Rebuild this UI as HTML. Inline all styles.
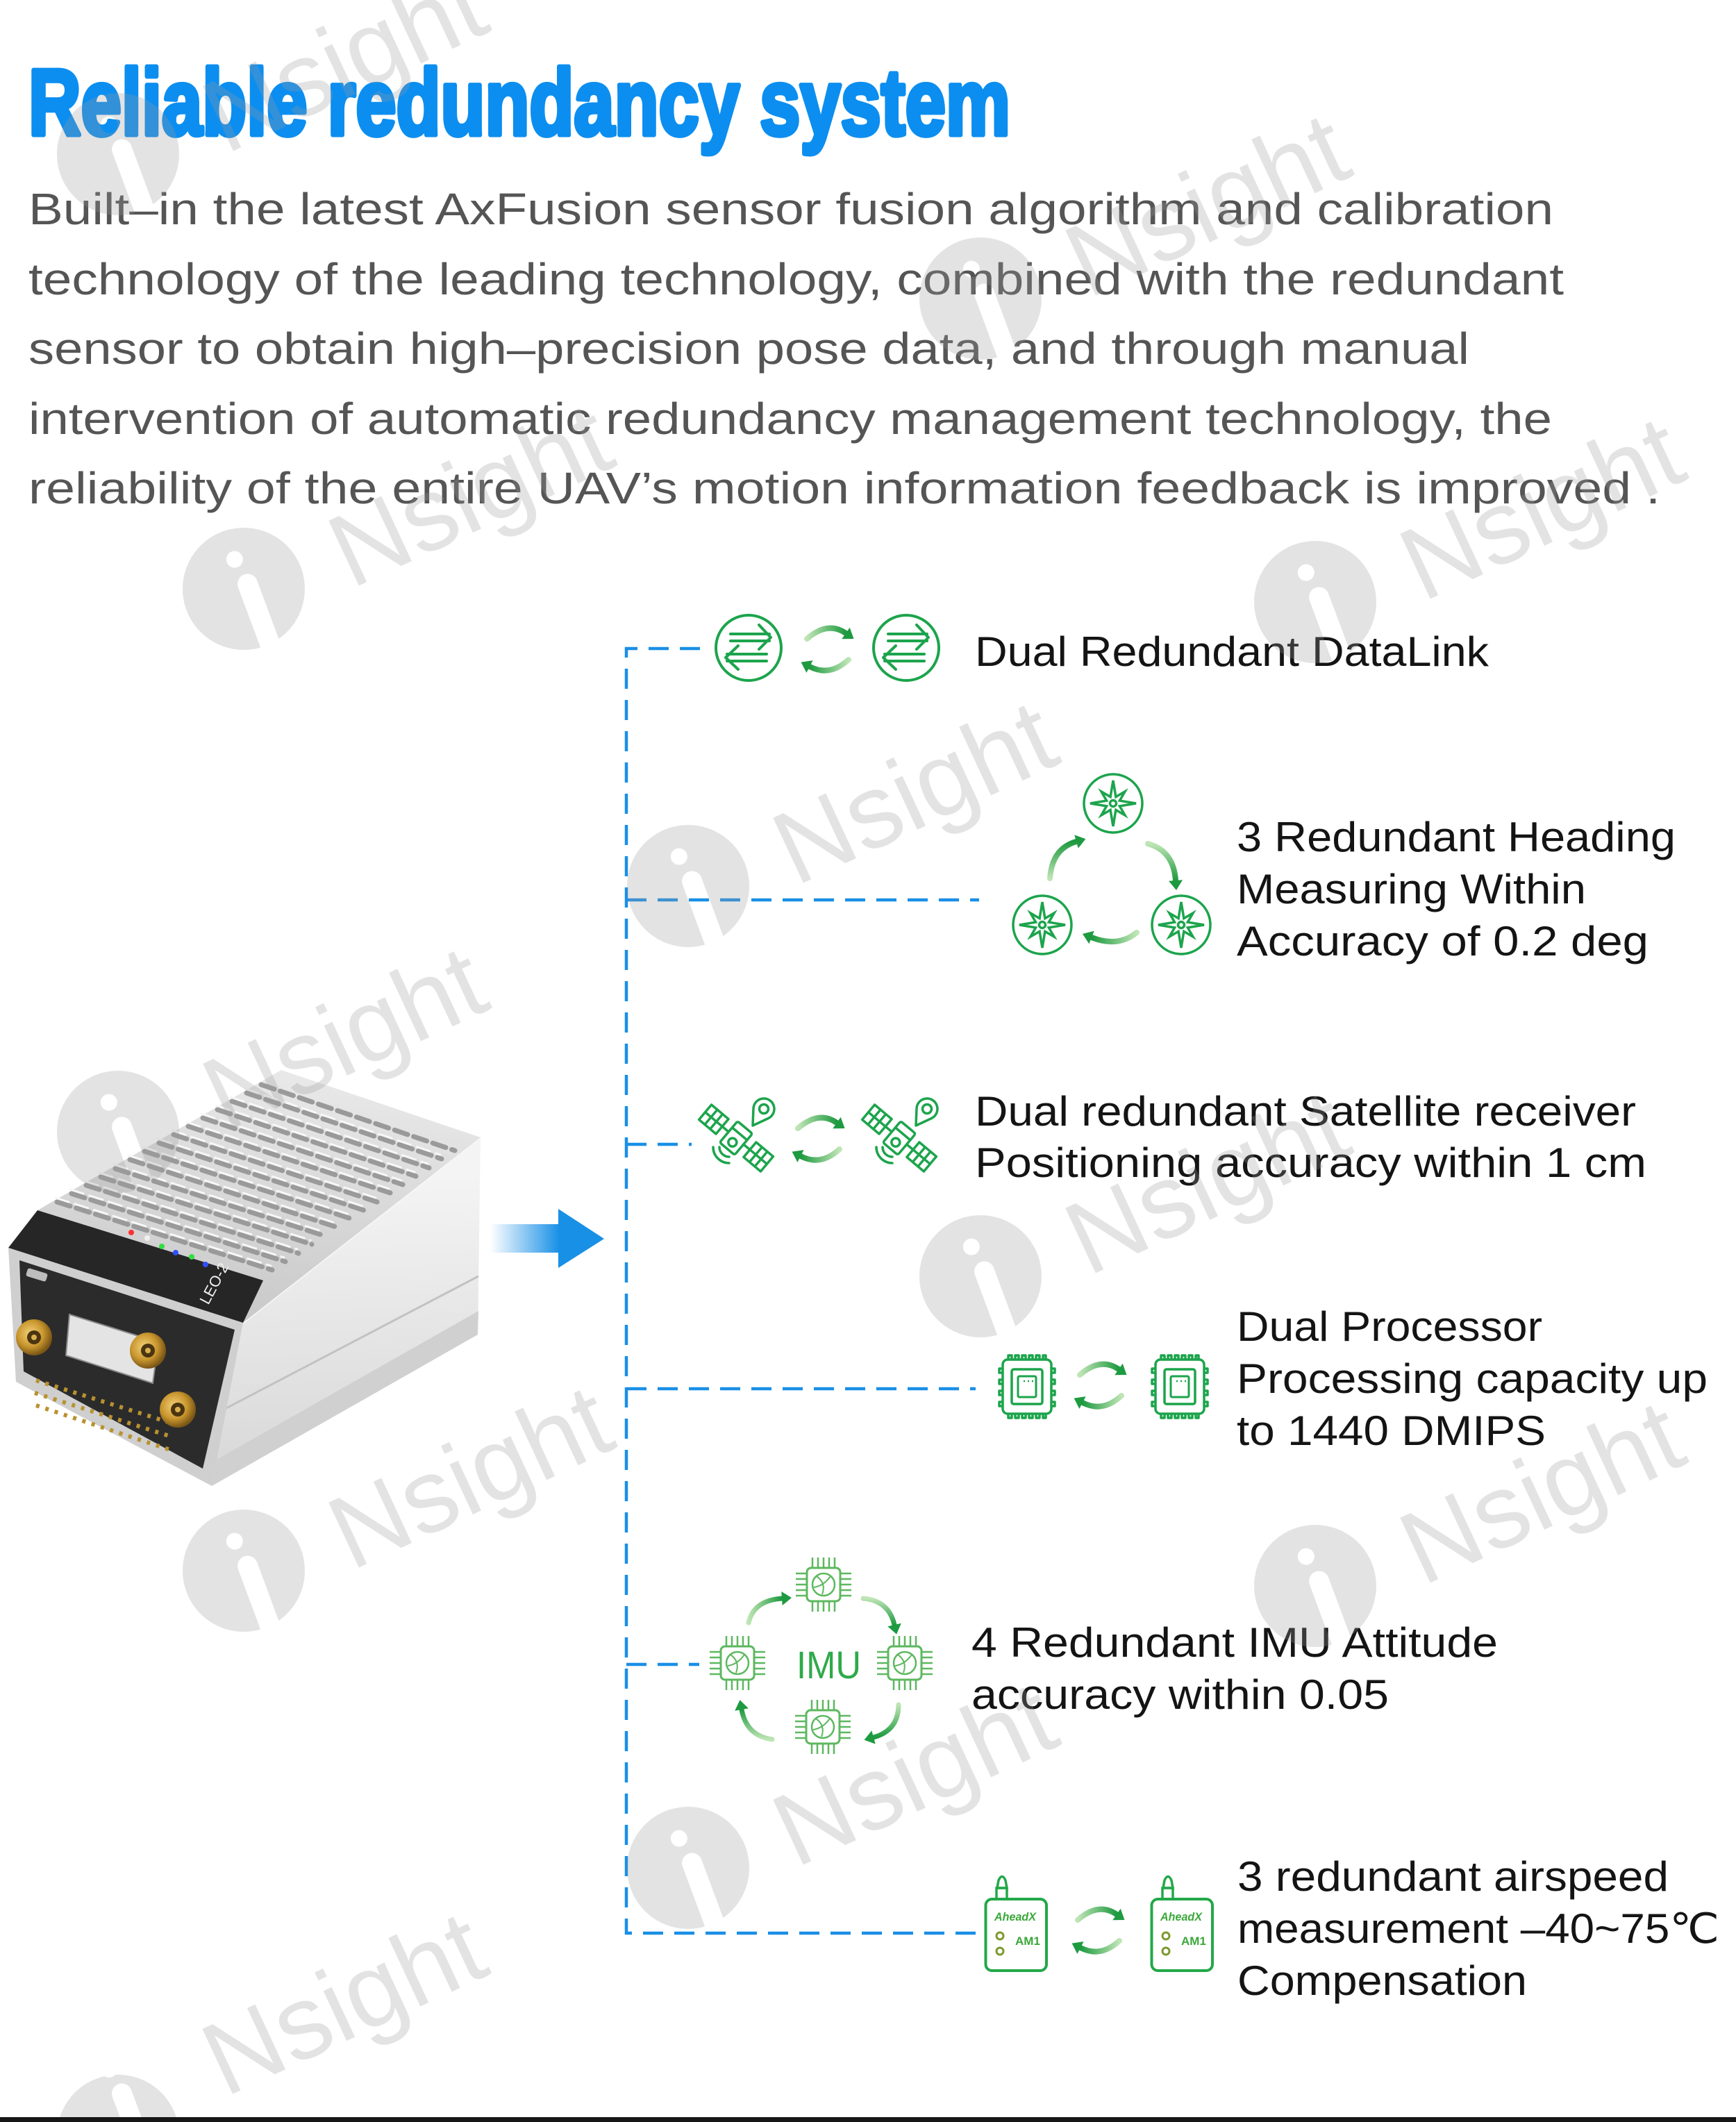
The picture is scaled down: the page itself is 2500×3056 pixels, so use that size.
<!DOCTYPE html>
<html><head><meta charset="utf-8"><title>Reliable redundancy system</title>
<style>
html,body{margin:0;padding:0;background:#fff;overflow:hidden;}
html{width:2500px;height:3056px;}
body{width:2500px;height:3056px;overflow:hidden;}
svg{display:block;}
</style></head>
<body>
<svg width="2500" height="3056" viewBox="0 0 2500 3056" xmlns="http://www.w3.org/2000/svg">
<defs>
  <linearGradient id="gR" x1="0" y1="0" x2="1" y2="0"><stop offset="0" stop-color="#bfe5b5"/><stop offset="1" stop-color="#1e9a40"/></linearGradient>
  <linearGradient id="gL" x1="1" y1="0" x2="0" y2="0"><stop offset="0" stop-color="#bfe5b5"/><stop offset="1" stop-color="#1e9a40"/></linearGradient>
  <linearGradient id="gD" x1="0" y1="0" x2="0" y2="1"><stop offset="0" stop-color="#bfe5b5"/><stop offset="1" stop-color="#1e9a40"/></linearGradient>
  <linearGradient id="gU" x1="0" y1="1" x2="0" y2="0"><stop offset="0" stop-color="#bfe5b5"/><stop offset="1" stop-color="#1e9a40"/></linearGradient>
  <linearGradient id="blueShaft" gradientUnits="userSpaceOnUse" x1="706" y1="0" x2="806" y2="0"><stop offset="0" stop-color="#ffffff"/><stop offset="1" stop-color="#1890e6"/></linearGradient>
  <linearGradient id="topFace" gradientUnits="userSpaceOnUse" x1="400" y1="1540" x2="360" y2="1900"><stop offset="0" stop-color="#e9e9e9"/><stop offset="1" stop-color="#c9c9c9"/></linearGradient>
  <linearGradient id="rightFace" gradientUnits="userSpaceOnUse" x1="500" y1="1700" x2="520" y2="2100"><stop offset="0" stop-color="#f4f4f4"/><stop offset="1" stop-color="#d9d9d9"/></linearGradient>
  <radialGradient id="gold" cx="0.4" cy="0.4" r="0.6"><stop offset="0" stop-color="#f3d27a"/><stop offset="0.6" stop-color="#c9962e"/><stop offset="1" stop-color="#7a5616"/></radialGradient>
  <mask id="wmask" maskUnits="userSpaceOnUse" x="-120" y="-120" width="240" height="260">
    <rect x="-120" y="-120" width="240" height="260" fill="#fff"/>
    <circle cx="6" cy="-44" r="12" fill="#000"/>
    <line x1="8" y1="-4" x2="-2" y2="120" stroke="#000" stroke-width="29" stroke-linecap="round"/>
  </mask>
</defs>

<!-- Title -->
<text x="41" y="194" font-family="'Liberation Sans', sans-serif" font-weight="bold" font-size="135" fill="#0b8ef0" stroke="#0b8ef0" stroke-width="7" stroke-linejoin="round" textLength="1414" lengthAdjust="spacingAndGlyphs">Reliable redundancy system</text>

<!-- Paragraph -->
<g font-family="'Liberation Sans', 'DejaVu Sans', sans-serif" font-size="64" fill="#555555">
  <text x="41" y="323" textLength="2196" lengthAdjust="spacingAndGlyphs">Built–in the latest AxFusion sensor fusion algorithm and calibration</text>
  <text x="41" y="424" textLength="2211" lengthAdjust="spacingAndGlyphs">technology of the leading technology, combined with the redundant</text>
  <text x="41" y="524" textLength="2075" lengthAdjust="spacingAndGlyphs">sensor to obtain high–precision pose data, and through manual</text>
  <text x="41" y="625" textLength="2194" lengthAdjust="spacingAndGlyphs">intervention of automatic redundancy management technology, the</text>
  <text x="41" y="725" textLength="2350" lengthAdjust="spacingAndGlyphs">reliability of the entire UAV’s motion information feedback is improved .</text>
</g>

<!-- Dashed connectors -->
<g stroke="#1a8fe6" stroke-width="4.5" fill="none" stroke-dasharray="29 16">
  <path d="M1008,934 H902 V2784 H1415"/>
  <path d="M902,1296 H1410"/>
  <path d="M902,1648 H996"/>
  <path d="M902,2000 H1405"/>
  <path d="M902,2397 H1007"/>
</g>

<!-- Device -->
<g>
  <polygon points="350,1905 692,1638 688,1922 305,2140" fill="url(#rightFace)"/>
  <polygon points="312,2102 689,1888 688,1922 305,2140" fill="#d0d0d0"/>
  <line x1="322" y1="2030" x2="689" y2="1838" stroke="#c2c2c2" stroke-width="3"/>
  <line x1="350" y1="1905" x2="692" y2="1638" stroke="#f8f8f8" stroke-width="3"/>
  <polygon points="12,1797 54,1743 405,1541 692,1638 350,1905" fill="url(#topFace)"/>
  <g stroke="#9a9a9a" stroke-width="7" stroke-linecap="round" stroke-dasharray="20 9" fill="none">
    <line x1="82" y1="1731" x2="392" y2="1829"/>
    <line x1="103" y1="1719" x2="411" y2="1817"/>
    <line x1="124" y1="1707" x2="430" y2="1805"/>
    <line x1="145" y1="1695" x2="449" y2="1792"/>
    <line x1="166" y1="1683" x2="468" y2="1780"/>
    <line x1="187" y1="1670" x2="487" y2="1768"/>
    <line x1="208" y1="1658" x2="505" y2="1755"/>
    <line x1="229" y1="1646" x2="524" y2="1743"/>
    <line x1="250" y1="1634" x2="543" y2="1731"/>
    <line x1="271" y1="1622" x2="562" y2="1718"/>
    <line x1="292" y1="1610" x2="580" y2="1706"/>
    <line x1="313" y1="1598" x2="599" y2="1694"/>
    <line x1="334" y1="1586" x2="618" y2="1682"/>
    <line x1="355" y1="1574" x2="636" y2="1669"/>
    <line x1="376" y1="1562" x2="655" y2="1657"/>
  </g>
  <g stroke="#f7f7f7" stroke-width="3" stroke-linecap="round" stroke-dasharray="20 9" fill="none">
    <line x1="80" y1="1725" x2="390" y2="1823"/>
    <line x1="101" y1="1713" x2="409" y2="1811"/>
    <line x1="122" y1="1701" x2="428" y2="1799"/>
    <line x1="143" y1="1689" x2="447" y2="1786"/>
    <line x1="164" y1="1677" x2="466" y2="1774"/>
    <line x1="185" y1="1664" x2="485" y2="1762"/>
    <line x1="206" y1="1652" x2="503" y2="1749"/>
    <line x1="227" y1="1640" x2="522" y2="1737"/>
    <line x1="248" y1="1628" x2="541" y2="1725"/>
    <line x1="269" y1="1616" x2="560" y2="1712"/>
    <line x1="290" y1="1604" x2="578" y2="1700"/>
    <line x1="311" y1="1592" x2="597" y2="1688"/>
    <line x1="332" y1="1580" x2="616" y2="1676"/>
    <line x1="353" y1="1568" x2="634" y2="1663"/>
  </g>
  <polygon points="12,1797 54,1743 379,1844 350,1905" fill="#262626"/>
  <g>
    <circle cx="189" cy="1775" r="4" fill="#ff3030"/>
    <circle cx="212" cy="1783" r="4" fill="#f0f0f0"/>
    <circle cx="233" cy="1795" r="4" fill="#30e040"/>
    <circle cx="253" cy="1804" r="4" fill="#3050ff"/>
    <circle cx="276" cy="1810" r="4" fill="#30e040"/>
    <circle cx="296" cy="1821" r="4" fill="#3050ff"/>
  </g>
  <text x="0" y="0" transform="translate(300,1880) rotate(-62)" font-family="'Liberation Sans', sans-serif" font-size="22" fill="#f0f0f0">LEO-2</text>
  <polygon points="12,1797 350,1905 305,2140 23,1990" fill="#cfcfcf"/>
  <polygon points="28,1815 338,1915 292,2115 34,1975" fill="#2b2b2b"/>
  <rect x="38" y="1830" width="30" height="12" rx="3" fill="#bdbdbd" transform="rotate(17 53 1836)"/>
  <polygon points="100,1893 228,1933 220,1992 95,1952" fill="#e4e4e4" stroke="#8a8a8a" stroke-width="2"/>
  <g stroke="#b8922f" stroke-width="6" stroke-dasharray="5 9" fill="none">
    <line x1="52" y1="1988" x2="255" y2="2052"/>
    <line x1="50" y1="2006" x2="250" y2="2070"/>
    <line x1="52" y1="2024" x2="245" y2="2088"/>
  </g>
  <g>
    <circle cx="49" cy="1926" r="26" fill="url(#gold)"/><circle cx="49" cy="1926" r="10" fill="#4a3510"/><circle cx="49" cy="1926" r="4" fill="#d9b050"/>
    <circle cx="213" cy="1945" r="26" fill="url(#gold)"/><circle cx="213" cy="1945" r="10" fill="#4a3510"/><circle cx="213" cy="1945" r="4" fill="#d9b050"/>
    <circle cx="256" cy="2030" r="26" fill="url(#gold)"/><circle cx="256" cy="2030" r="10" fill="#4a3510"/><circle cx="256" cy="2030" r="4" fill="#d9b050"/>
  </g>
</g>

<!-- Blue arrow -->
<rect x="706" y="1763" width="99" height="41" fill="url(#blueShaft)"/>
<polygon points="804,1741 870,1784 804,1826" fill="#1890e6"/>

<!-- DataLink icons -->
<g stroke="#1ca44c" fill="none" stroke-width="4" stroke-linecap="round" stroke-linejoin="round">
  <g transform="translate(1078,933)">
    <circle r="47"/>
    <path d="M-26,-20 H30 M-26,-10 H30 M15,-33 L32,-15 L15,2"/>
    <path d="M-31,9 H26 M-31,19 H26 M-15,-3 L-33,14 L-15,31"/>
  </g>
  <g transform="translate(1305,933)">
    <circle r="47"/>
    <path d="M-26,-20 H30 M-26,-10 H30 M15,-33 L32,-15 L15,2"/>
    <path d="M-31,9 H26 M-31,19 H26 M-15,-3 L-33,14 L-15,31"/>
  </g>
</g>

<!-- Refresh arrow pairs -->
<g transform="translate(1194,935)">
  <path d="M-32,-15 Q-2,-41 24,-23" stroke="url(#gR)" stroke-width="8" fill="none" stroke-linecap="round"/>
  <polygon points="35.5,-15 18.3,-14.8 29.7,-31.2" fill="#1e9a40"/>
  <path d="M28,15 Q1,40 -28,25" stroke="url(#gL)" stroke-width="8" fill="none" stroke-linecap="round"/>
  <polygon points="-40.4,18.6 -23.4,16.1 -32.6,33.9" fill="#1e9a40"/>
</g>
<g transform="translate(1181,1640)">
  <path d="M-32,-15 Q-2,-41 24,-23" stroke="url(#gR)" stroke-width="8" fill="none" stroke-linecap="round"/>
  <polygon points="35.5,-15 18.3,-14.8 29.7,-31.2" fill="#1e9a40"/>
  <path d="M28,15 Q1,40 -28,25" stroke="url(#gL)" stroke-width="8" fill="none" stroke-linecap="round"/>
  <polygon points="-40.4,18.6 -23.4,16.1 -32.6,33.9" fill="#1e9a40"/>
</g>
<g transform="translate(1587,1995)">
  <path d="M-32,-15 Q-2,-41 24,-23" stroke="url(#gR)" stroke-width="8" fill="none" stroke-linecap="round"/>
  <polygon points="35.5,-15 18.3,-14.8 29.7,-31.2" fill="#1e9a40"/>
  <path d="M28,15 Q1,40 -28,25" stroke="url(#gL)" stroke-width="8" fill="none" stroke-linecap="round"/>
  <polygon points="-40.4,18.6 -23.4,16.1 -32.6,33.9" fill="#1e9a40"/>
</g>
<g transform="translate(1584,2780)">
  <path d="M-32,-15 Q-2,-41 24,-23" stroke="url(#gR)" stroke-width="8" fill="none" stroke-linecap="round"/>
  <polygon points="35.5,-15 18.3,-14.8 29.7,-31.2" fill="#1e9a40"/>
  <path d="M28,15 Q1,40 -28,25" stroke="url(#gL)" stroke-width="8" fill="none" stroke-linecap="round"/>
  <polygon points="-40.4,18.6 -23.4,16.1 -32.6,33.9" fill="#1e9a40"/>
</g>

<!-- Heading compasses -->
<g stroke="#1ca44c" fill="none" stroke-width="3.5" stroke-linejoin="miter">
  <g transform="translate(1603,1157)">
    <circle r="42"/>
    <polygon points="0,-33 3.9,-9.4 17,-17 9.4,-3.9 33,0 9.4,3.9 17,17 3.9,9.4 0,33 -3.9,9.4 -17,17 -9.4,3.9 -33,0 -9.4,-3.9 -17,-17 -3.9,-9.4"/>
    <circle r="4.5"/>
  </g>
  <g transform="translate(1501,1332)">
    <circle r="42"/>
    <polygon points="0,-33 3.9,-9.4 17,-17 9.4,-3.9 33,0 9.4,3.9 17,17 3.9,9.4 0,33 -3.9,9.4 -17,17 -9.4,3.9 -33,0 -9.4,-3.9 -17,-17 -3.9,-9.4"/>
    <circle r="4.5"/>
  </g>
  <g transform="translate(1701,1332)">
    <circle r="42"/>
    <polygon points="0,-33 3.9,-9.4 17,-17 9.4,-3.9 33,0 9.4,3.9 17,17 3.9,9.4 0,33 -3.9,9.4 -17,17 -9.4,3.9 -33,0 -9.4,-3.9 -17,-17 -3.9,-9.4"/>
    <circle r="4.5"/>
  </g>
</g>
<g fill="none" stroke-width="8" stroke-linecap="round">
  <path d="M1512,1265 Q1515,1222 1550,1212" stroke="url(#gU)"/>
  <path d="M1653,1215 Q1690,1225 1693,1268" stroke="url(#gD)"/>
  <path d="M1637,1343 Q1610,1365 1572,1350" stroke="url(#gL)"/>
</g>
<g fill="#1e9a40">
  <polygon points="1563.4,1208.2 1552.7,1221.6 1547.3,1202.4"/>
  <polygon points="1694,1282 1683,1268.7 1703,1267.3"/>
  <polygon points="1559,1344.9 1575.7,1340.7 1568.3,1359.3"/>
</g>

<!-- Satellites -->
<g stroke="#1ca44c" fill="none" stroke-width="3.5" stroke-linejoin="round" stroke-linecap="round">
  <g>
    <g transform="translate(1060,1639) rotate(40)">
      <rect x="-58" y="-14" width="32" height="28"/>
      <path d="M-47,-14V14 M-37,-14V14 M-58,0H-26"/>
      <rect x="26" y="-14" width="32" height="28"/>
      <path d="M37,-14V14 M47,-14V14 M26,0H58"/>
      <path d="M-26,0H-14 M14,0H26"/>
      <rect x="-14" y="-20" width="28" height="40" rx="3"/>
      <circle cx="0" cy="8" r="6"/>
      <path d="M-14,-8H14"/>
    </g>
    <path d="M1050,1666 A14,14 0 0 1 1036,1652 M1050,1675 A23,23 0 0 1 1027,1652"/>
    <path d="M1084,1621 L1085,1596.4 A15,15 0 1 1 1106.3,1610.6 Z"/>
    <circle cx="1100" cy="1597" r="6.5"/>
  </g>
  <g transform="translate(235,0)">
    <g transform="translate(1060,1639) rotate(40)">
      <rect x="-58" y="-14" width="32" height="28"/>
      <path d="M-47,-14V14 M-37,-14V14 M-58,0H-26"/>
      <rect x="26" y="-14" width="32" height="28"/>
      <path d="M37,-14V14 M47,-14V14 M26,0H58"/>
      <path d="M-26,0H-14 M14,0H26"/>
      <rect x="-14" y="-20" width="28" height="40" rx="3"/>
      <circle cx="0" cy="8" r="6"/>
      <path d="M-14,-8H14"/>
    </g>
    <path d="M1050,1666 A14,14 0 0 1 1036,1652 M1050,1675 A23,23 0 0 1 1027,1652"/>
    <path d="M1084,1621 L1085,1596.4 A15,15 0 1 1 1106.3,1610.6 Z"/>
    <circle cx="1100" cy="1597" r="6.5"/>
  </g>
</g>

<!-- Processors -->
<g stroke="#1ca44c" fill="none" stroke-width="3.5" stroke-linejoin="round">
  <g transform="translate(1479,1997)">
    <rect x="-35" y="-39" width="70" height="78" rx="7"/>
    <path d="M-27,-39 v-6 h5 v6 M-17,-39 v-6 h5 v6 M-7,-39 v-6 h5 v6 M3,-39 v-6 h5 v6 M13,-39 v-6 h5 v6 M23,-39 v-6 h4 v6"/>
    <path d="M-27,39 v6 h5 v-6 M-17,39 v6 h5 v-6 M-7,39 v6 h5 v-6 M3,39 v6 h5 v-6 M13,39 v6 h5 v-6 M23,39 v6 h4 v-6"/>
    <path d="M-35,-26 h-5 v6 h5 M-35,-10 h-5 v6 h5 M-35,6 h-5 v6 h5 M-35,22 h-5 v6 h5"/>
    <path d="M35,-26 h5 v6 h-5 M35,-10 h5 v6 h-5 M35,6 h5 v6 h-5 M35,22 h5 v6 h-5"/>
    <rect x="-22" y="-25" width="44" height="50" rx="3"/>
    <rect x="-13" y="-15" width="26" height="30" rx="2" stroke-width="3"/>
    <path d="M-5,-8 h2 M1,-8 h2 M7,-8 h2" stroke-width="2.5"/>
  </g>
  <g transform="translate(1699,1997)">
    <rect x="-35" y="-39" width="70" height="78" rx="7"/>
    <path d="M-27,-39 v-6 h5 v6 M-17,-39 v-6 h5 v6 M-7,-39 v-6 h5 v6 M3,-39 v-6 h5 v6 M13,-39 v-6 h5 v6 M23,-39 v-6 h4 v6"/>
    <path d="M-27,39 v6 h5 v-6 M-17,39 v6 h5 v-6 M-7,39 v6 h5 v-6 M3,39 v6 h5 v-6 M13,39 v6 h5 v-6 M23,39 v6 h4 v-6"/>
    <path d="M-35,-26 h-5 v6 h5 M-35,-10 h-5 v6 h5 M-35,6 h-5 v6 h5 M-35,22 h-5 v6 h5"/>
    <path d="M35,-26 h5 v6 h-5 M35,-10 h5 v6 h-5 M35,6 h5 v6 h-5 M35,22 h5 v6 h-5"/>
    <rect x="-22" y="-25" width="44" height="50" rx="3"/>
    <rect x="-13" y="-15" width="26" height="30" rx="2" stroke-width="3"/>
    <path d="M-5,-8 h2 M1,-8 h2 M7,-8 h2" stroke-width="2.5"/>
  </g>
</g>

<!-- IMU chips -->
<g stroke="#5db85f" fill="none" stroke-width="3" stroke-linejoin="round">
  <g transform="translate(1186,2282)">
    <rect x="-24" y="-24" width="48" height="48" rx="6"/>
    <path d="M-16,-24V-39 M-8,-24V-39 M0,-24V-39 M8,-24V-39 M16,-24V-39 M-16,24V39 M-8,24V39 M0,24V39 M8,24V39 M16,24V39 M-24,-16H-40 M-24,-8H-40 M-24,0H-40 M-24,8H-40 M-24,16H-40 M24,-16H40 M24,-8H40 M24,0H40 M24,8H40 M24,16H40" stroke-width="2.5"/>
    <circle r="16" stroke-width="2.5"/>
    <path d="M-10,-12 Q4,-2 -2,14 M-14,4 Q0,2 10,-12" stroke-width="2"/>
  </g>
  <g transform="translate(1062,2395)">
    <rect x="-24" y="-24" width="48" height="48" rx="6"/>
    <path d="M-16,-24V-39 M-8,-24V-39 M0,-24V-39 M8,-24V-39 M16,-24V-39 M-16,24V39 M-8,24V39 M0,24V39 M8,24V39 M16,24V39 M-24,-16H-40 M-24,-8H-40 M-24,0H-40 M-24,8H-40 M-24,16H-40 M24,-16H40 M24,-8H40 M24,0H40 M24,8H40 M24,16H40" stroke-width="2.5"/>
    <circle r="16" stroke-width="2.5"/>
    <path d="M-10,-12 Q4,-2 -2,14 M-14,4 Q0,2 10,-12" stroke-width="2"/>
  </g>
  <g transform="translate(1303,2395)">
    <rect x="-24" y="-24" width="48" height="48" rx="6"/>
    <path d="M-16,-24V-39 M-8,-24V-39 M0,-24V-39 M8,-24V-39 M16,-24V-39 M-16,24V39 M-8,24V39 M0,24V39 M8,24V39 M16,24V39 M-24,-16H-40 M-24,-8H-40 M-24,0H-40 M-24,8H-40 M-24,16H-40 M24,-16H40 M24,-8H40 M24,0H40 M24,8H40 M24,16H40" stroke-width="2.5"/>
    <circle r="16" stroke-width="2.5"/>
    <path d="M-10,-12 Q4,-2 -2,14 M-14,4 Q0,2 10,-12" stroke-width="2"/>
  </g>
  <g transform="translate(1185,2487)">
    <rect x="-24" y="-24" width="48" height="48" rx="6"/>
    <path d="M-16,-24V-39 M-8,-24V-39 M0,-24V-39 M8,-24V-39 M16,-24V-39 M-16,24V39 M-8,24V39 M0,24V39 M8,24V39 M16,24V39 M-24,-16H-40 M-24,-8H-40 M-24,0H-40 M-24,8H-40 M-24,16H-40 M24,-16H40 M24,-8H40 M24,0H40 M24,8H40 M24,16H40" stroke-width="2.5"/>
    <circle r="16" stroke-width="2.5"/>
    <path d="M-10,-12 Q4,-2 -2,14 M-14,4 Q0,2 10,-12" stroke-width="2"/>
  </g>
</g>
<text x="1147" y="2417" font-family="'Liberation Sans', sans-serif" font-size="56" fill="#2faa4a" textLength="93" lengthAdjust="spacingAndGlyphs">IMU</text>
<g fill="none" stroke-width="7" stroke-linecap="round">
  <path d="M1078,2337 Q1085,2305 1126,2302" stroke="url(#gR)"/>
  <path d="M1243,2302 Q1280,2305 1288,2340" stroke="url(#gD)"/>
  <path d="M1294,2455 Q1294,2492 1258,2502" stroke="url(#gD)"/>
  <path d="M1112,2505 Q1075,2500 1068,2462" stroke="url(#gU)"/>
</g>
<g fill="#1e9a40">
  <polygon points="1140,2301 1126.7,2312 1125.3,2292"/>
  <polygon points="1291.1,2353.6 1278.3,2342.2 1297.8,2337.8"/>
  <polygon points="1244.5,2505.7 1255.3,2492.4 1260.7,2511.6"/>
  <polygon points="1065.5,2448.2 1077.8,2460.2 1058.2,2463.8"/>
</g>

<!-- Airspeed sensors -->
<g>
  <g>
    <rect x="1419.5" y="2735" width="87.5" height="103" rx="9" fill="none" stroke="#22a848" stroke-width="4"/>
    <rect x="1435" y="2719" width="15" height="16" fill="none" stroke="#22a848" stroke-width="3.5"/>
    <path d="M1436,2719 L1438,2708 Q1443,2697 1448,2708 L1450,2719 Z" fill="none" stroke="#22a848" stroke-width="3.5"/>
    <text x="1432" y="2766" font-family="'Liberation Sans', sans-serif" font-size="17" font-weight="bold" font-style="italic" fill="#3aa83a" textLength="60" lengthAdjust="spacingAndGlyphs">AheadX</text>
    <circle cx="1440" cy="2788" r="5" fill="none" stroke="#7d9a2e" stroke-width="3"/>
    <circle cx="1440" cy="2810" r="5" fill="none" stroke="#7d9a2e" stroke-width="3"/>
    <text x="1462" y="2801" font-family="'Liberation Sans', sans-serif" font-size="17" font-weight="bold" fill="#3aa83a" textLength="36" lengthAdjust="spacingAndGlyphs">AM1</text>
  </g>
  <g transform="translate(239,0)">
    <rect x="1419.5" y="2735" width="87.5" height="103" rx="9" fill="none" stroke="#22a848" stroke-width="4"/>
    <rect x="1435" y="2719" width="15" height="16" fill="none" stroke="#22a848" stroke-width="3.5"/>
    <path d="M1436,2719 L1438,2708 Q1443,2697 1448,2708 L1450,2719 Z" fill="none" stroke="#22a848" stroke-width="3.5"/>
    <text x="1432" y="2766" font-family="'Liberation Sans', sans-serif" font-size="17" font-weight="bold" font-style="italic" fill="#3aa83a" textLength="60" lengthAdjust="spacingAndGlyphs">AheadX</text>
    <circle cx="1440" cy="2788" r="5" fill="none" stroke="#7d9a2e" stroke-width="3"/>
    <circle cx="1440" cy="2810" r="5" fill="none" stroke="#7d9a2e" stroke-width="3"/>
    <text x="1462" y="2801" font-family="'Liberation Sans', sans-serif" font-size="17" font-weight="bold" fill="#3aa83a" textLength="36" lengthAdjust="spacingAndGlyphs">AM1</text>
  </g>
</g>

<!-- Labels -->
<g font-family="'Liberation Sans', 'DejaVu Sans', 'Noto Sans CJK SC', sans-serif" font-size="60" fill="#141414">
  <text x="1404" y="959" textLength="740" lengthAdjust="spacingAndGlyphs">Dual Redundant DataLink</text>
  <text x="1781" y="1226" textLength="632" lengthAdjust="spacingAndGlyphs">3 Redundant Heading</text>
  <text x="1781" y="1301" textLength="503" lengthAdjust="spacingAndGlyphs">Measuring Within</text>
  <text x="1781" y="1376" textLength="593" lengthAdjust="spacingAndGlyphs">Accuracy of 0.2 deg</text>
  <text x="1404" y="1621" textLength="952" lengthAdjust="spacingAndGlyphs">Dual redundant Satellite receiver</text>
  <text x="1404" y="1695" textLength="967" lengthAdjust="spacingAndGlyphs">Positioning accuracy within 1 cm</text>
  <text x="1781" y="1931" textLength="440" lengthAdjust="spacingAndGlyphs">Dual Processor</text>
  <text x="1781" y="2006" textLength="678" lengthAdjust="spacingAndGlyphs">Processing capacity up</text>
  <text x="1781" y="2081" textLength="445" lengthAdjust="spacingAndGlyphs">to 1440 DMIPS</text>
  <text x="1399" y="2386" textLength="758" lengthAdjust="spacingAndGlyphs">4 Redundant IMU Attitude</text>
  <text x="1399" y="2461" textLength="601" lengthAdjust="spacingAndGlyphs">accuracy within 0.05</text>
  <text x="1782" y="2723" textLength="621" lengthAdjust="spacingAndGlyphs">3 redundant airspeed</text>
  <text x="1782" y="2798" textLength="694" lengthAdjust="spacingAndGlyphs">measurement –40~75℃</text>
  <text x="1782" y="2873" textLength="417" lengthAdjust="spacingAndGlyphs">Compensation</text>
</g>

<!-- Watermarks -->
<g fill="#9a9a9a" opacity="0.28" font-family="'Liberation Sans', sans-serif" font-size="150">
  <g transform="translate(170,222) rotate(-25)"><circle r="88" mask="url(#wmask)"/><text x="140" y="66">Nsight</text></g>
  <g transform="translate(170,1630) rotate(-25)"><circle r="88" mask="url(#wmask)"/><text x="140" y="66">Nsight</text></g>
  <g transform="translate(1412,430) rotate(-25)"><circle r="88" mask="url(#wmask)"/><text x="140" y="66">Nsight</text></g>
  <g transform="translate(1412,1838) rotate(-25)"><circle r="88" mask="url(#wmask)"/><text x="140" y="66">Nsight</text></g>
  <g transform="translate(351,848) rotate(-25)"><circle r="88" mask="url(#wmask)"/><text x="140" y="66">Nsight</text></g>
  <g transform="translate(351,2262) rotate(-25)"><circle r="88" mask="url(#wmask)"/><text x="140" y="66">Nsight</text></g>
  <g transform="translate(1894,867) rotate(-25)"><circle r="88" mask="url(#wmask)"/><text x="140" y="66">Nsight</text></g>
  <g transform="translate(1894,2284) rotate(-25)"><circle r="88" mask="url(#wmask)"/><text x="140" y="66">Nsight</text></g>
  <g transform="translate(991,1276) rotate(-25)"><circle r="88" mask="url(#wmask)"/><text x="140" y="66">Nsight</text></g>
  <g transform="translate(991,2690) rotate(-25)"><circle r="88" mask="url(#wmask)"/><text x="140" y="66">Nsight</text></g>
  <g transform="translate(170,3022) rotate(-25)"><text x="140" y="64">Nsight</text></g>
  <path d="M86.2,3049 A88,88 0 0 1 253.8,3049 Z"/>
</g>
<g fill="#ffffff">
  <circle cx="157" cy="2980" r="12"/>
  <circle cx="175.5" cy="3015" r="14.5"/>
  <polygon points="161.9,3020.1 189.1,3009.9 203.7,3049 172.7,3049"/>
</g>

<!-- Bottom band -->
<rect x="0" y="3049" width="2500" height="7" fill="#161616"/>
</svg>
</body></html>
